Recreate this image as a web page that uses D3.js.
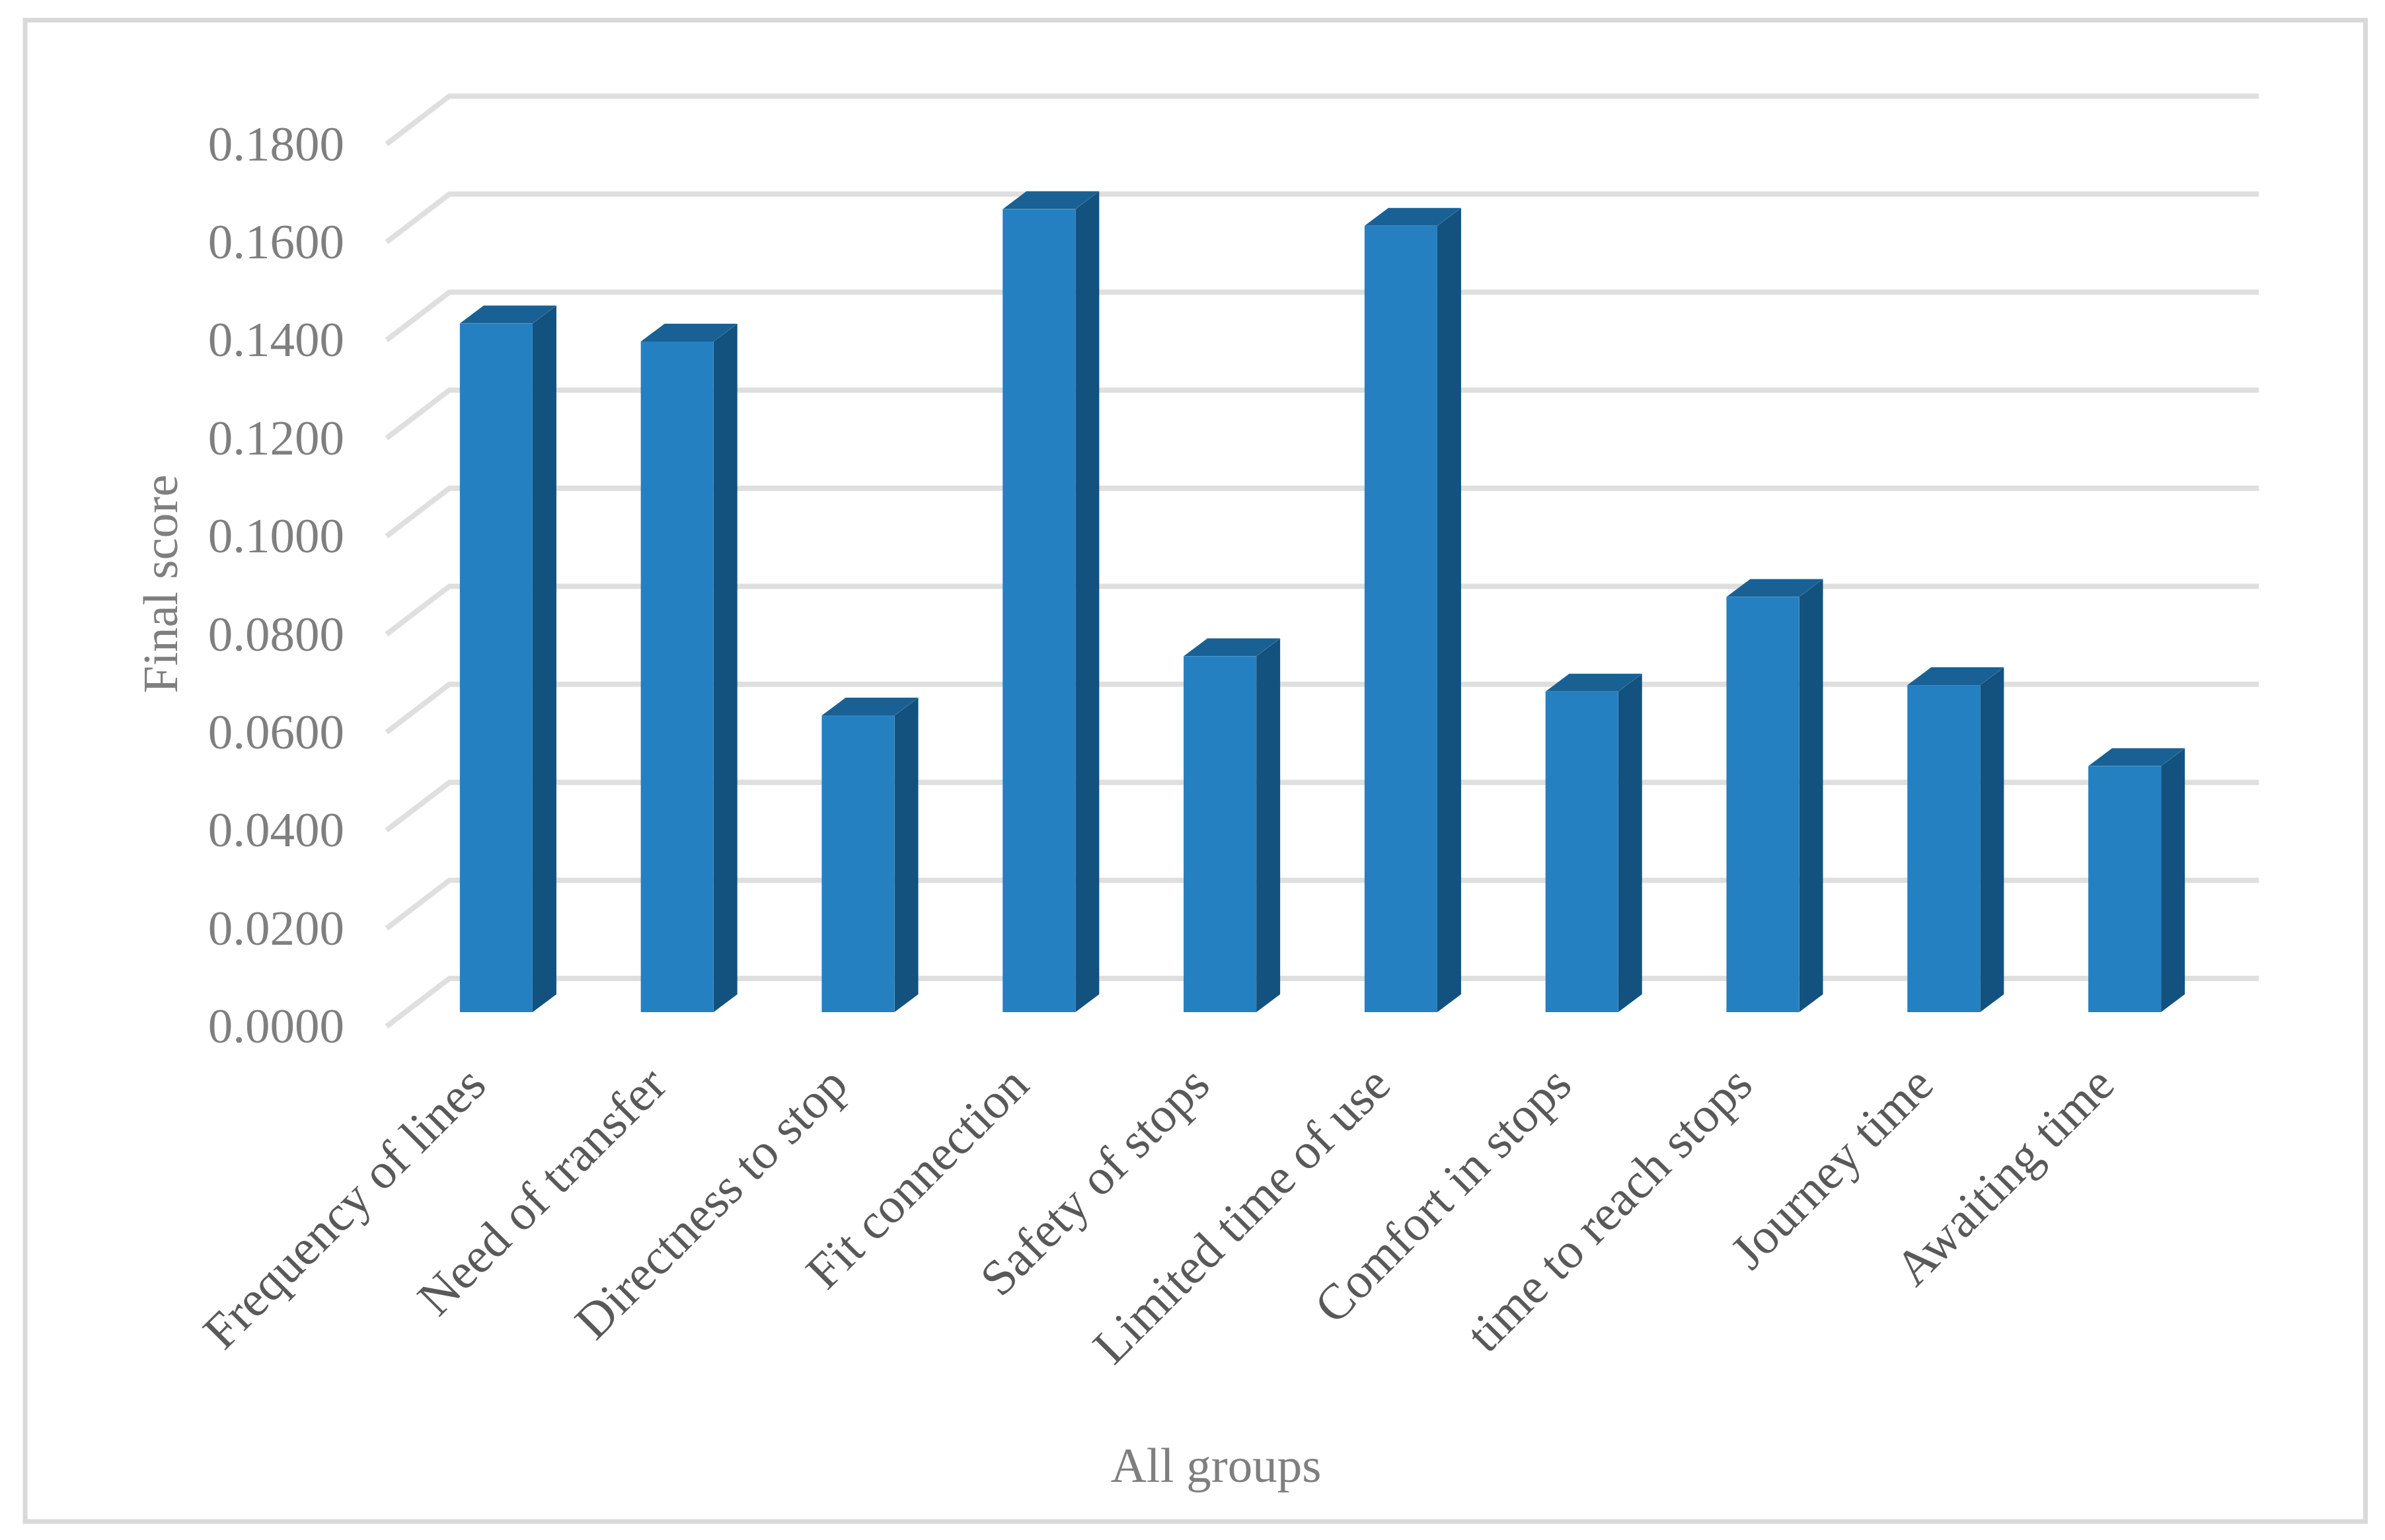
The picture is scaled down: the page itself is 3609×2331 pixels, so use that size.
<!DOCTYPE html>
<html><head><meta charset="utf-8">
<script src="https://cdn.jsdelivr.net/npm/d3@7/dist/d3.min.js"></script>
<style>html,body{margin:0;padding:0;background:#fff}svg{display:block}text{font-family:"Liberation Serif","Times New Roman",serif}</style>
</head><body><div id="chart"></div>
<script>
const categories = ["Frequency of lines","Need of transfer","Directness to stop","Fit connection","Safety of stops","Limited time of use","Comfort in stops","time to reach stops","Journey time","Awaiting time"];
const scores = [0.1405,0.1368,0.0605,0.1638,0.0726,0.1604,0.0654,0.0847,0.0667,0.0502];
const yTicks = [0,0.02,0.04,0.06,0.08,0.10,0.12,0.14,0.16,0.18];
const yAxisTitle = "Final score";
const xAxisTitle = "All groups";

const W = 3609, H = 2331;
const svg = d3.select("#chart").append("svg").attr("width",W).attr("height",H).attr("viewBox",[0,0,W,H]);
svg.append("rect").attr("x",38).attr("y",30.5).attr("width",3541.5).attr("height",2272.5)
  .attr("fill","#fff").attr("stroke","#d9d9d9").attr("stroke-width",7);

const step = 148.4;
const yBack = d3.scaleLinear().domain([0,0.18]).range([1481,1481-9*step]);
const yFront = d3.scaleLinear().domain([0,0.18]).range([1553.6,1553.6-9*step]);
const yBar = d3.scaleLinear().domain([0,0.18]).range([1532,1532-9*step]);
const x = d3.scaleBand().domain(categories).range([614,3352]).paddingInner(0.598).paddingOuter(0.299);
const dx = 36, dy = 27;

// gridlines
svg.append("g").attr("fill","none").attr("stroke","#dfdfdf").attr("stroke-width",8)
  .selectAll("path").data(yTicks).join("path")
  .attr("d",t=>d3.line()([[585,yFront(t)],[680,yBack(t)],[3418,yBack(t)]]));

// bars
const bars = svg.append("g").selectAll("g").data(categories.map((c,i)=>({c,v:scores[i]}))).join("g");
const line = d3.line();
bars.append("path").attr("fill","#13527f").attr("d",d=>{
  const r=x(d.c)+x.bandwidth(), t=yBar(d.v), b=yBar(0);
  return line([[r,t],[r+dx,t-dy],[r+dx,b-dy],[r,b]])+"Z";});
bars.append("path").attr("fill","#196195").attr("d",d=>{
  const l=x(d.c), r=l+x.bandwidth(), t=yBar(d.v);
  return line([[l,t],[l+dx,t-dy],[r+dx,t-dy],[r,t]])+"Z";});
bars.append("rect").attr("fill","#2480c1")
  .attr("x",d=>x(d.c)).attr("width",x.bandwidth())
  .attr("y",d=>yBar(d.v)).attr("height",d=>yBar(0)-yBar(d.v));

// y axis labels
const yAxis = svg.append("g").attr("transform","translate(521,0)")
  .call(d3.axisLeft(yFront).tickValues(yTicks).tickFormat(d3.format(".4f")).tickSize(0).tickPadding(0));
yAxis.select(".domain").remove();
yAxis.selectAll("text").attr("fill","#7f7f7f").attr("font-size",75)
  .attr("font-family","Liberation Serif").attr("dy",0).attr("y",24);

// x axis labels
const xAxis = svg.append("g").attr("transform","translate(-12,1646)")
  .call(d3.axisBottom(x).tickSize(0).tickPadding(0));
xAxis.select(".domain").remove();
xAxis.selectAll("text").attr("fill","#595959").attr("font-size",76)
  .attr("font-family","Liberation Serif")
  .attr("text-anchor","end").attr("dy",0).attr("y",0)
  .attr("transform","rotate(-45)");

svg.append("text").attr("transform","translate(268,884) rotate(-90)").attr("text-anchor","middle")
  .attr("fill","#7f7f7f").attr("font-size",75).text(yAxisTitle);
svg.append("text").attr("x",1840).attr("y",2243).attr("text-anchor","middle")
  .attr("fill","#7f7f7f").attr("font-size",75).text(xAxisTitle);
</script></body></html>
